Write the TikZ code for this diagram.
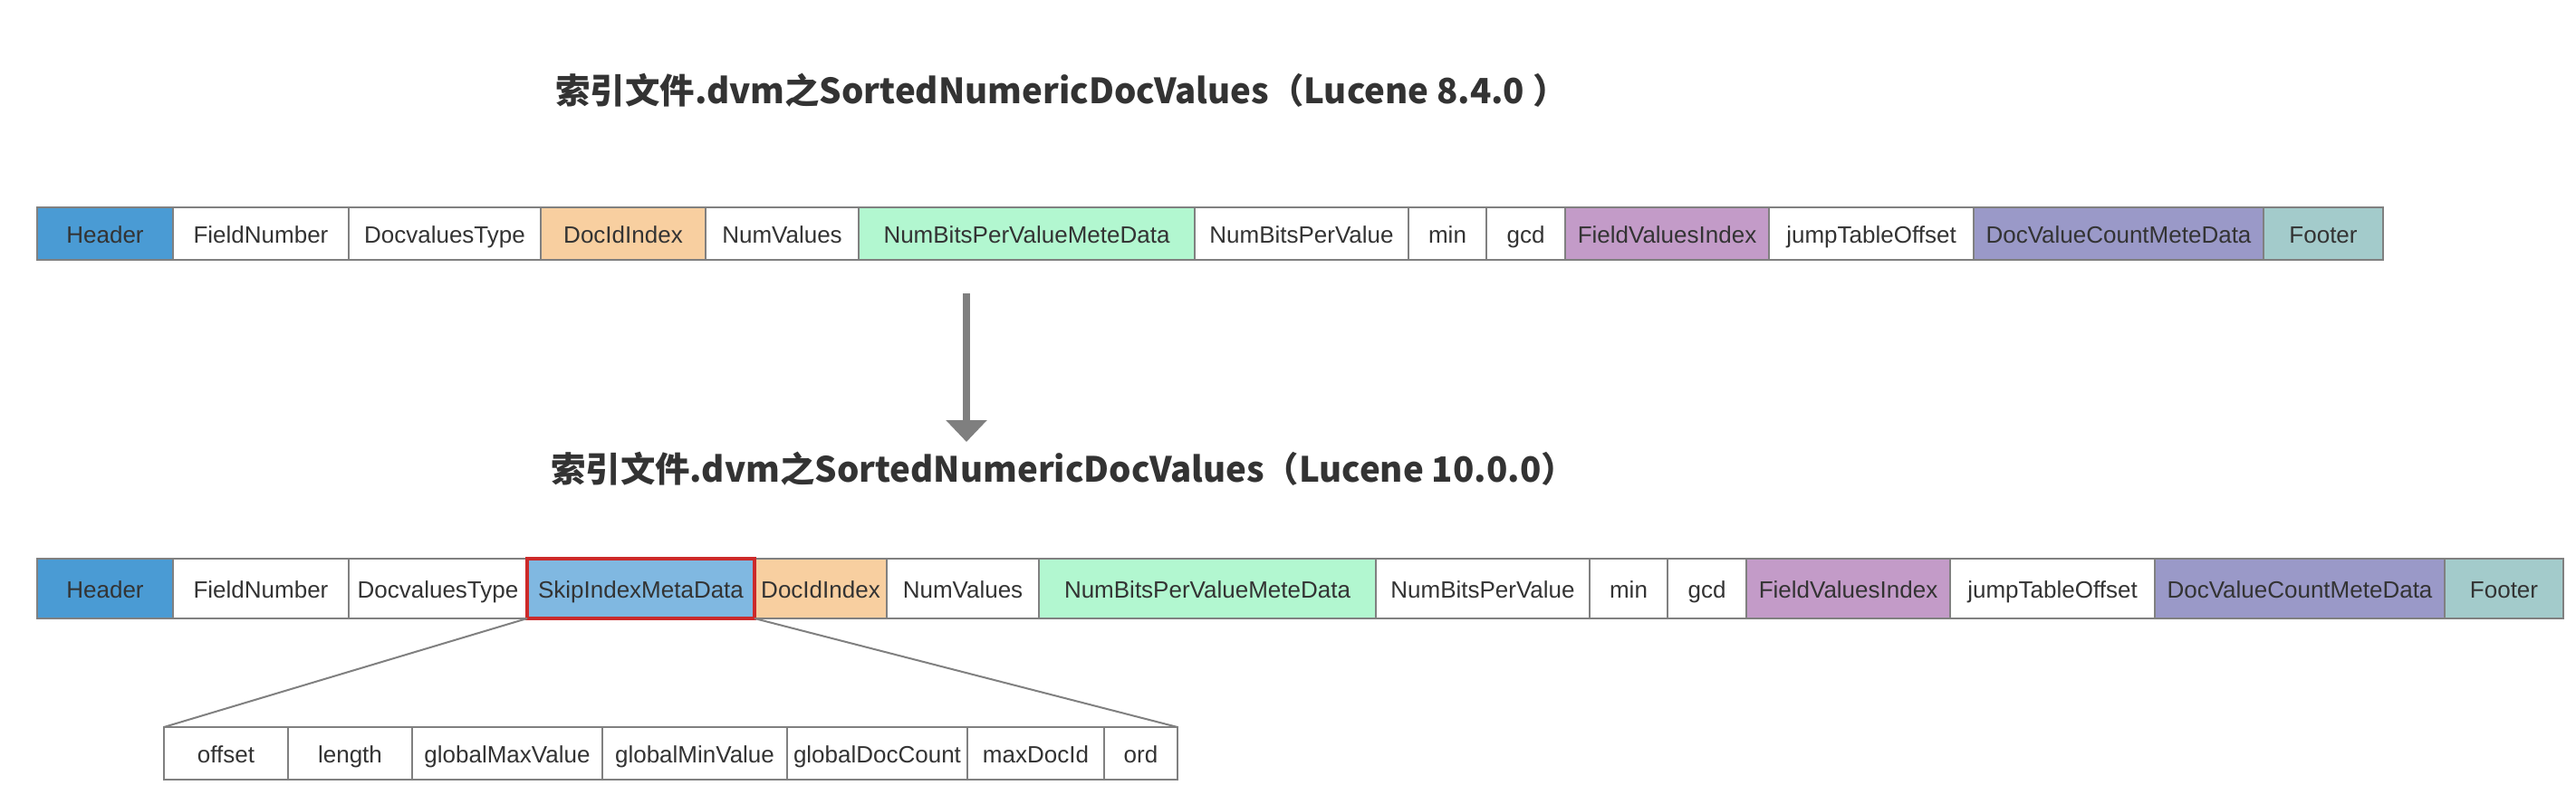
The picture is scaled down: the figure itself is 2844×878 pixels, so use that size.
\documentclass[tikz,border=0pt]{standalone}
\usepackage{fontspec}
\setmainfont{Liberation Sans}
\newfontfamily\cjkfont{Noto Sans CJK SC}
\usetikzlibrary{arrows.meta, positioning}
\definecolor{cellText}{HTML}{333333}
\definecolor{cellLine}{HTML}{808080}
\definecolor{headerBlue}{HTML}{4A9BD4}
\definecolor{skipBlue}{HTML}{80B8E1}
\definecolor{idxPeach}{HTML}{F8CFA0}
\definecolor{bitsGreen}{HTML}{B2F7D0}
\definecolor{fieldPurple}{HTML}{C39BC8}
\definecolor{countPurple}{HTML}{9A99C8}
\definecolor{footerTeal}{HTML}{A3CBCB}
\definecolor{markRed}{HTML}{CC2A2A}
\definecolor{arrowGray}{HTML}{7F7F7F}

\begin{document}
\begin{tikzpicture}[x=0.5pt, y=-0.5pt,
    cell/.style={draw=cellLine, line width=0.8pt, inner sep=0pt, outer sep=0pt,
        text height=11pt, text depth=1pt,
        font=\fontsize{13}{15}\selectfont, text=cellText},
    title/.style={font=\cjkfont\bfseries\fontsize{19.2}{23}\selectfont, text=cellText, inner sep=0pt}]
    \useasboundingbox (0,0) rectangle (2844,878);

    % Titles
    \node[title] (titleOld) at (1172,100) {索引文件.dvm之SortedNumericDocValues（Lucene 8.4.0 ）};
    \node[title] (titleNew) at (1174,518) {索引文件.dvm之SortedNumericDocValues（Lucene 10.0.0）};

    % Lucene 8.4.0 row
    \coordinate (old0) at (41,258);
    \foreach \txt/\w/\c [count=\i, remember=\i as \j (initially 0)] in {
        Header/150/headerBlue, FieldNumber/194/white, DocvaluesType/212/white,
        DocIdIndex/182/idxPeach, NumValues/169/white, NumBitsPerValueMeteData/371/bitsGreen,
        NumBitsPerValue/236/white, min/86/white, gcd/87/white, FieldValuesIndex/225/fieldPurple,
        jumpTableOffset/226/white, DocValueCountMeteData/320/countPurple, Footer/132/footerTeal}
        \node[cell, fill=\c, minimum width=\w*0.5pt, minimum height=29pt, right=0pt of old\j] (old\i) {\txt};
    \draw[cellLine, line width=1.4pt] (old1.north west) rectangle (old13.south east);

    % Arrow between versions
    \coordinate (arrowTop) at (1067,324);
    \coordinate (arrowTip) at (1067,488);
    \draw[arrowGray, line width=4pt, -{Triangle[width=22pt, length=12pt]}] (arrowTop) -- (arrowTip);

    % Lucene 10.0.0 row
    \coordinate (new0) at (41,650);
    \foreach \txt/\w/\c [count=\i, remember=\i as \j (initially 0)] in {
        Header/150/headerBlue, FieldNumber/194/white, DocvaluesType/197/white,
        SkipIndexMetaData/251/skipBlue, DocIdIndex/146/idxPeach, NumValues/168/white,
        NumBitsPerValueMeteData/372/bitsGreen, NumBitsPerValue/236/white, min/86/white,
        gcd/87/white, FieldValuesIndex/225/fieldPurple, jumpTableOffset/226/white,
        DocValueCountMeteData/320/countPurple, Footer/131/footerTeal}
        \node[cell, fill=\c, minimum width=\w*0.5pt, minimum height=33pt, right=0pt of new\j] (new\i) {\txt};
    \draw[cellLine, line width=1.4pt] (new1.north west) rectangle (new14.south east);
    \draw[markRed, line width=2.2pt] (new4.north west) rectangle (new4.south east);

    % SkipIndexMetaData fields
    \coordinate (sub0) at (181,832);
    \foreach \txt/\w [count=\i, remember=\i as \j (initially 0)] in {
        offset/137, length/137, globalMaxValue/210, globalMinValue/204,
        globalDocCount/199, maxDocId/151, ord/81}
        \node[cell, fill=white, minimum width=\w*0.5pt, minimum height=29pt, right=0pt of sub\j] (sub\i) {\txt};
    \draw[cellLine, line width=1.4pt] (sub1.north west) rectangle (sub7.south east);

    \draw[cellLine, line width=1pt] (new4.south west) -- (sub1.north west);
    \draw[cellLine, line width=1pt] (new4.south east) -- (sub7.north east);
\end{tikzpicture}
\end{document}
